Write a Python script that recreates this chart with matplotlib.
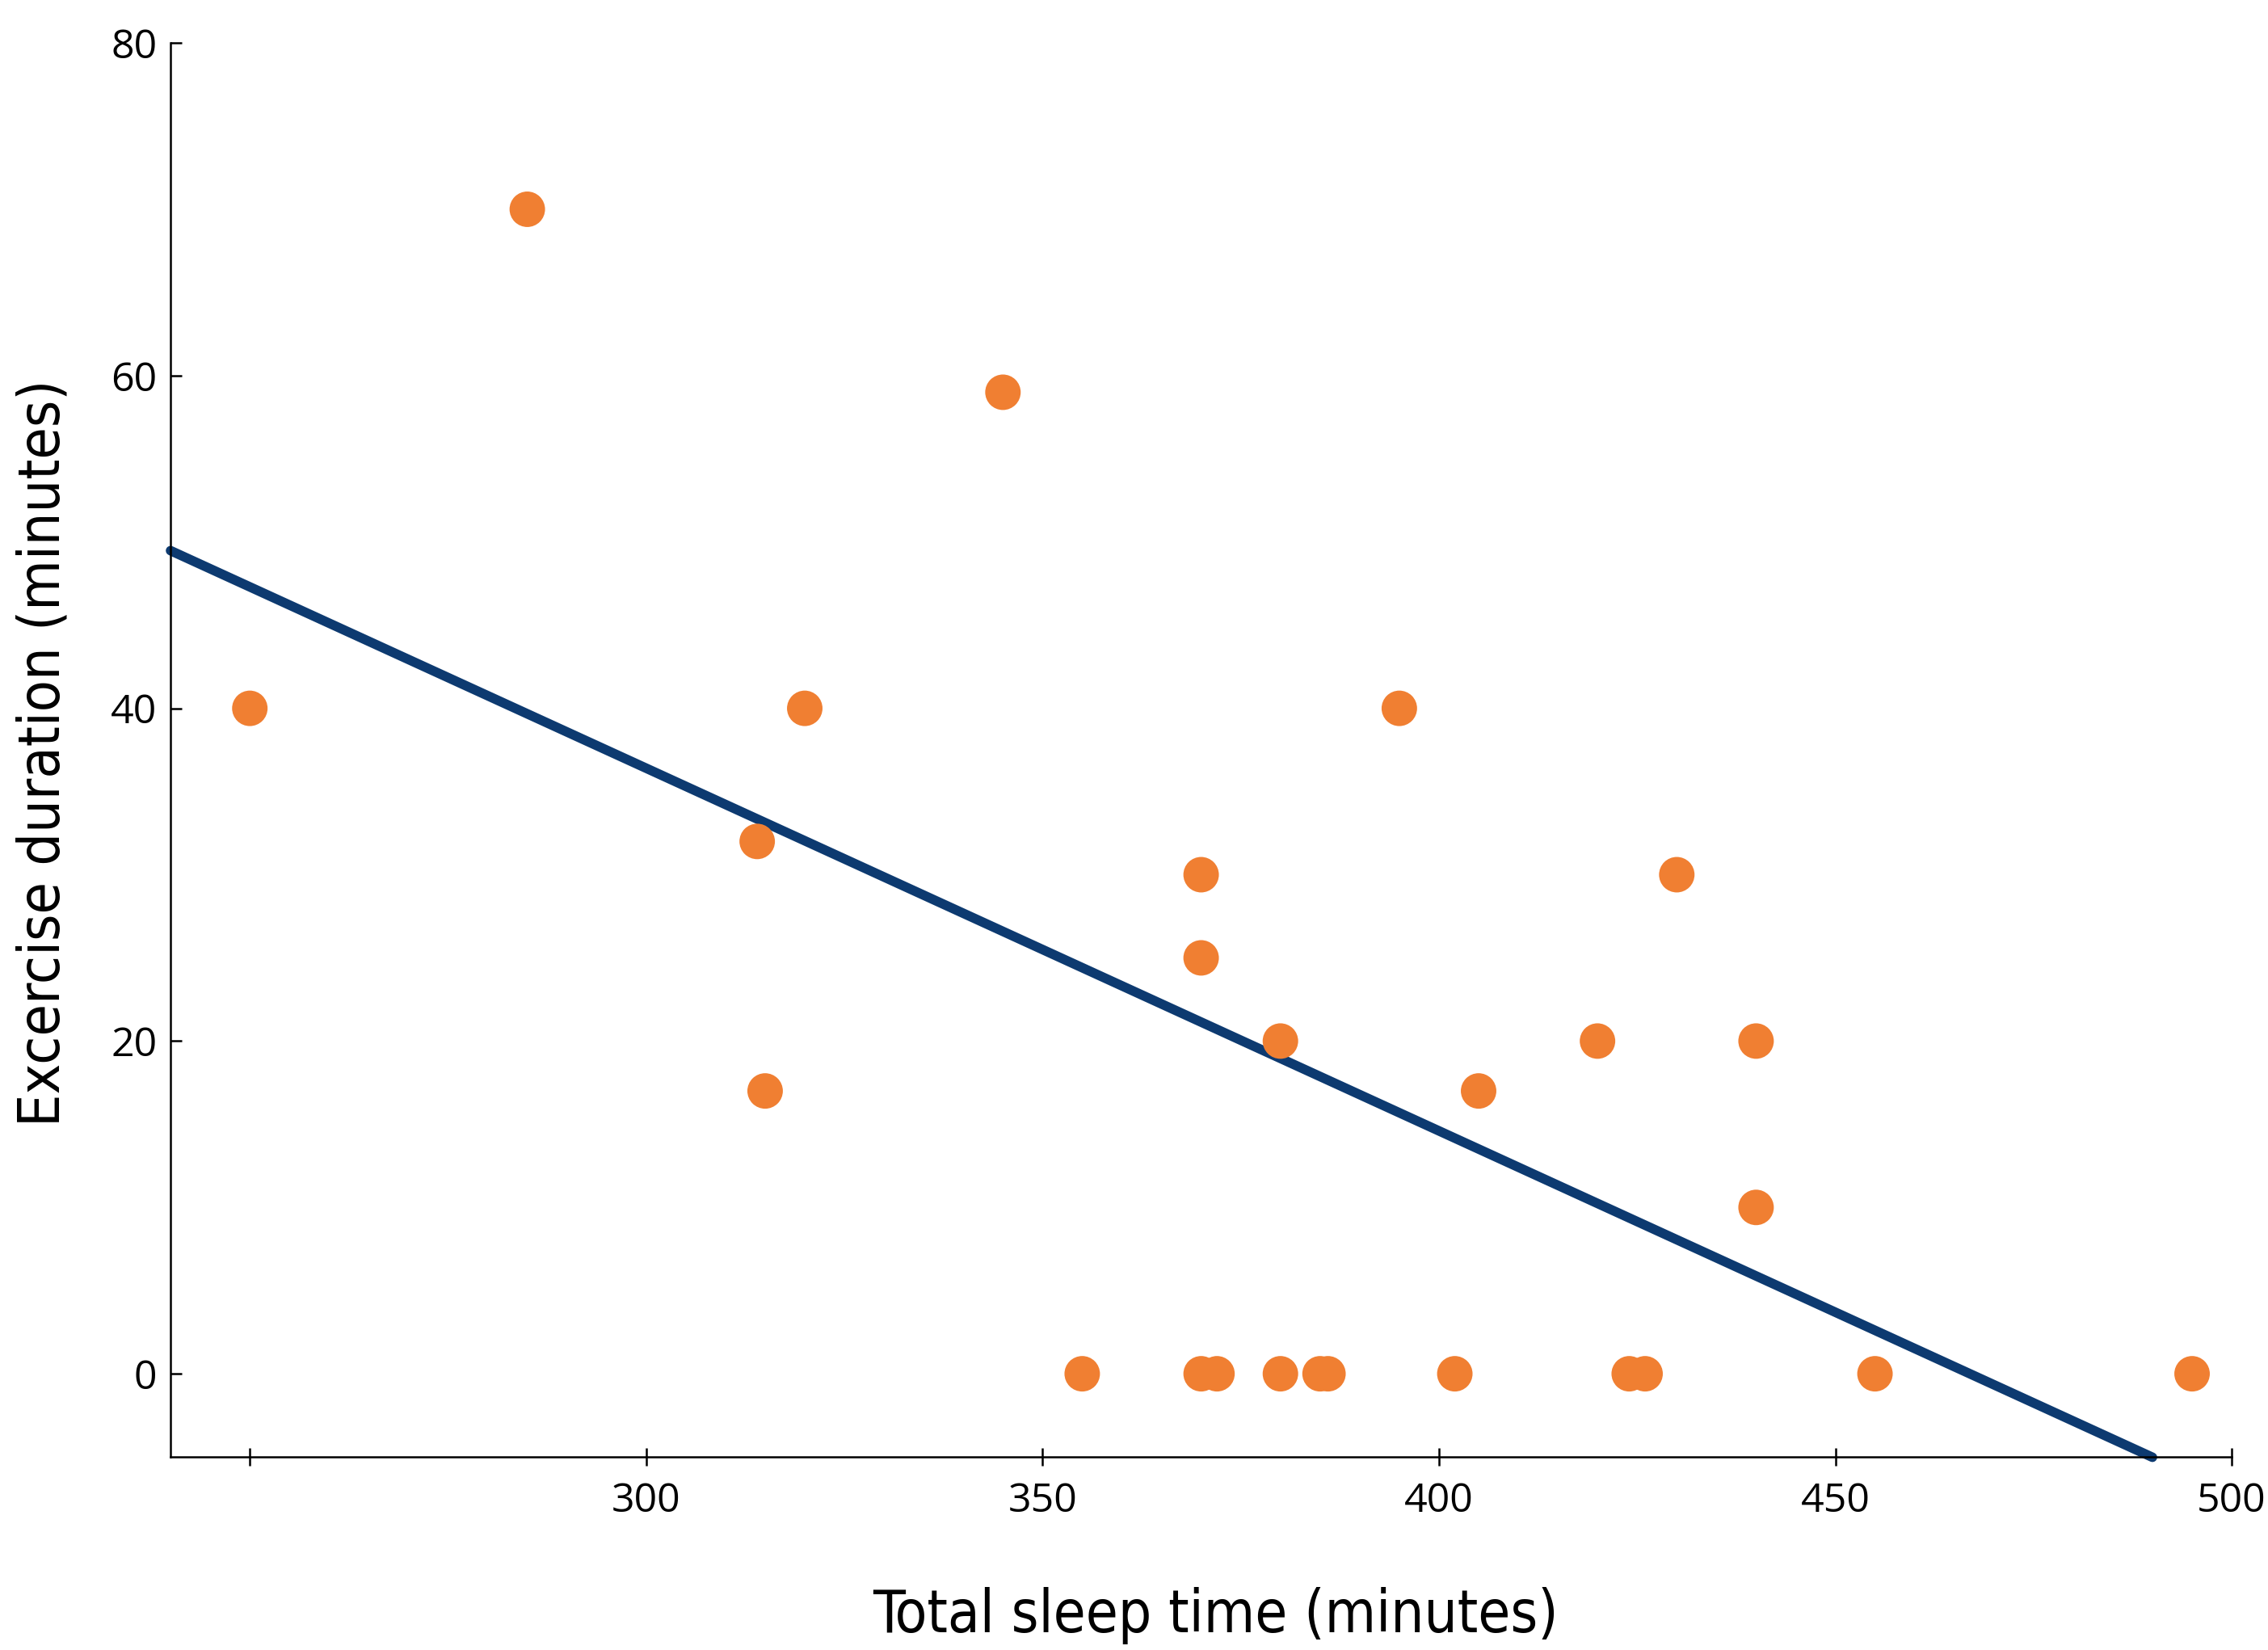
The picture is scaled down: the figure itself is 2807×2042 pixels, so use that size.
import matplotlib
matplotlib.use("Agg")
import matplotlib.pyplot as plt
from matplotlib import font_manager
import numpy as np

# total sleep time (minutes) vs exercise duration (minutes)
sleep_time = [250, 285, 345, 320, 314, 315, 395, 370, 370, 380, 405, 420, 430, 440, 440,
              355, 370, 372, 380, 385, 386, 402, 424, 426, 455, 495]
exercise = [40, 70, 59, 40, 32, 17, 40, 30, 25, 20, 17, 20, 30, 20, 10,
            0, 0, 0, 0, 0, 0, 0, 0, 0, 0, 0]

# fitted line
fit_x = [240, 490]
fit_intercept = 101.8
fit_slope = -0.218

x_ticks = [250, 300, 350, 400, 450, 500]
x_ticklabels = ["", "300", "350", "400", "450", "500"]
y_ticks = [0, 20, 40, 60, 80]

tick_font = "Open Sans"

# the axis titles use a condensed face, take one if there is any
label_font, label_stretch = "Roboto", "normal"
for f in font_manager.fontManager.ttflist:
    if f.stretch in ("condensed", "semi-condensed") or "Narrow" in f.name or "Condensed" in f.name:
        label_font, label_stretch = f.name, f.stretch
        break

fig = plt.figure(figsize=(28.07, 20.42), dpi=100)
ax = fig.add_axes([0.0752, 0.117, 0.9088, 0.857])

ax.scatter(sleep_time, exercise, s=1000, color="#F07F32", edgecolors="none", zorder=3)
fx = np.array(fit_x)
ax.plot(fx, fit_intercept + fit_slope * fx, color="#0D3A70", lw=8.5,
        solid_capstyle="round", zorder=2, clip_on=False)

ax.set_xlim(240, 500)
ax.set_ylim(-5, 80)
ax.set_xticks(x_ticks)
ax.set_xticklabels(x_ticklabels, fontsize=36, fontfamily=tick_font)
ax.set_yticks(y_ticks)
ax.set_yticklabels([str(v) for v in y_ticks], fontsize=36, fontfamily=tick_font)
ax.tick_params(axis="x", direction="inout", length=16, width=1.8, pad=14)
ax.tick_params(axis="y", direction="in", length=10, width=1.8, pad=12)

for side in ["top", "right"]:
    ax.spines[side].set_visible(False)
for side in ["left", "bottom"]:
    ax.spines[side].set_linewidth(1.8)

xl = ax.set_xlabel("Total sleep time (minutes)", fontsize=63, family=label_font,
                   fontstretch=label_stretch, va="center")
yl = ax.set_ylabel("Excercise duration (minutes)", fontsize=63, family=label_font,
                   fontstretch=label_stretch, va="center")
ax.xaxis.set_label_coords(0.507, -0.1125)
ax.yaxis.set_label_coords(-0.0615, 0.498)

# shrink the titles to the width they have in the original
fig.canvas.draw()
r = fig.canvas.get_renderer()
w = xl.get_window_extent(r).width
xl.set_fontsize(min(63, 63 * 849 / w))
h = yl.get_window_extent(r).height
yl.set_fontsize(min(63, 63 * 924 / h))

fig.savefig("out.png", dpi=100, facecolor="white")
